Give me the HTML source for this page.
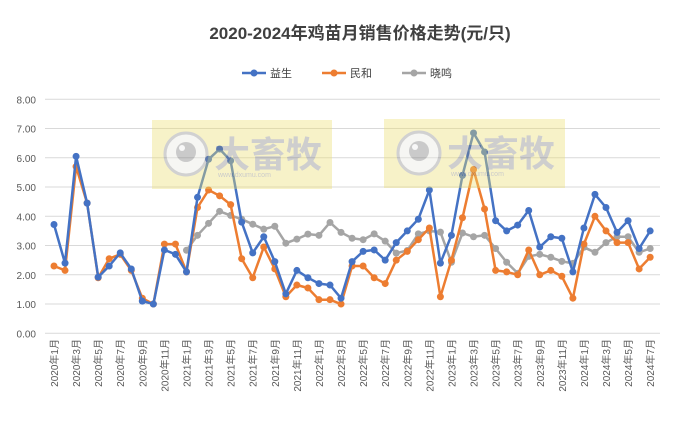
<!DOCTYPE html>
<html><head><meta charset="utf-8"><style>
body{margin:0;background:#fff;}
svg{display:block;font-family:"Liberation Sans","Noto Sans CJK SC",sans-serif;}
</style></head><body>
<svg id="s" width="680" height="422" viewBox="0 0 680 422" xmlns="http://www.w3.org/2000/svg">
<rect width="680" height="422" fill="#fff"/>
<text x="360" y="39" text-anchor="middle" font-size="17" font-weight="bold" fill="#404040">2020-2024年鸡苗月销售价格走势(元/只)</text>
<g font-size="11" fill="#404040">
<line x1="242" y1="73" x2="266" y2="73" stroke="#4472c4" stroke-width="2.5"/><circle cx="254" cy="73" r="3.5" fill="#4472c4"/><text x="270" y="77">益生</text>
<line x1="322" y1="73" x2="346" y2="73" stroke="#ed7d31" stroke-width="2.5"/><circle cx="334" cy="73" r="3.5" fill="#ed7d31"/><text x="350" y="77">民和</text>
<line x1="402" y1="73" x2="426" y2="73" stroke="#a5a5a5" stroke-width="2.5"/><circle cx="414" cy="73" r="3.5" fill="#a5a5a5"/><text x="430" y="77">晓鸣</text>
</g>
<g id="grid"></g>
<g id="data"></g>
<g opacity="0.38">
<rect x="152" y="120" width="180" height="69" fill="#ecdf70"/>
<circle cx="186" cy="154" r="21" fill="#e8e8e0" stroke="#888" stroke-width="3"/><circle cx="186" cy="152" r="10" fill="#777"/><circle cx="182" cy="148" r="3" fill="#eee"/>
<text x="214" y="167" font-size="36" font-weight="bold" fill="#808080">大畜牧</text>
<text x="218" y="177" font-size="7" fill="#777">www.dxumu.com</text>
<rect x="384" y="119" width="181" height="69" fill="#ecdf70"/>
<circle cx="419" cy="153" r="21" fill="#e8e8e0" stroke="#888" stroke-width="3"/><circle cx="419" cy="151" r="10" fill="#777"/><circle cx="415" cy="147" r="3" fill="#eee"/>
<text x="447" y="166" font-size="36" font-weight="bold" fill="#808080">大畜牧</text>
<text x="451" y="176" font-size="7" fill="#777">www.dxumu.com</text>
</g>
</svg>
<script>
var NS="http://www.w3.org/2000/svg",s=document.getElementById('grid'),d=document.getElementById('data');
function el(p,t,a,txt){var e=document.createElementNS(NS,t);for(var k in a)e.setAttribute(k,a[k]);if(txt)e.textContent=txt;p.appendChild(e);return e;}
function X(i){return 54+11.04*i;}function Y(v){return 333.3-29.25*v;}
for(var v=0;v<=8;v++){el(s,'line',{x1:45,x2:660,y1:Y(v),y2:Y(v),stroke:'#d9d9d9','stroke-width':1});
el(s,'text',{x:36,y:Y(v)+4,'text-anchor':'end','font-size':'10',fill:'#595959'},v.toFixed(2));}
for(var i=0;i<55;i+=2){var y=2020+Math.floor(i/12),m=i%12+1;
el(s,'text',{transform:'translate('+(X(i)+4)+',339) rotate(-90)','text-anchor':'end','font-size':'10',fill:'#595959'},y+'年'+m+'月');}
var blue=[3.72,2.4,6.05,4.45,1.92,2.3,2.75,2.2,1.1,1.0,2.85,2.7,2.1,4.65,5.95,6.3,5.9,3.8,2.75,3.3,2.45,1.35,2.15,1.9,1.7,1.65,1.2,2.45,2.8,2.85,2.5,3.1,3.5,3.9,4.9,2.4,3.35,5.4,6.85,6.2,3.85,3.5,3.7,4.2,2.95,3.3,3.25,2.1,3.6,4.75,4.3,3.45,3.85,2.9,3.5];
var orange=[2.3,2.15,5.7,4.45,1.9,2.55,2.7,2.15,1.2,1.0,3.05,3.05,2.1,4.3,4.9,4.7,4.4,2.55,1.9,2.95,2.2,1.25,1.65,1.55,1.15,1.15,1.0,2.3,2.3,1.9,1.7,2.5,2.8,3.2,3.6,1.25,2.5,3.95,5.6,4.25,2.15,2.1,2.0,2.85,2.0,2.15,1.95,1.2,3.05,4.0,3.5,3.1,3.1,2.2,2.6];
var gray=[2.84,3.35,3.76,4.17,4.03,3.9,3.73,3.56,3.66,3.08,3.22,3.39,3.35,3.79,3.45,3.25,3.2,3.4,3.15,2.74,2.83,3.4,3.5,3.46,2.43,3.43,3.3,3.35,2.9,2.43,2.05,2.63,2.7,2.6,2.46,2.39,2.94,2.77,3.1,3.3,3.3,2.77,2.9];
function series(a,off,c){var p=a.map(function(v,j){return X(j+off).toFixed(1)+','+Y(v).toFixed(1)}).join(' ');
el(d,'polyline',{points:p,fill:'none',stroke:c,'stroke-width':2.5,'stroke-linejoin':'round'});
a.forEach(function(v,j){el(d,'circle',{cx:X(j+off),cy:Y(v),r:3.5,fill:c});});}
series(gray,12,'#a5a5a5');series(orange,0,'#ed7d31');series(blue,0,'#4472c4');
</script>
</body></html>
